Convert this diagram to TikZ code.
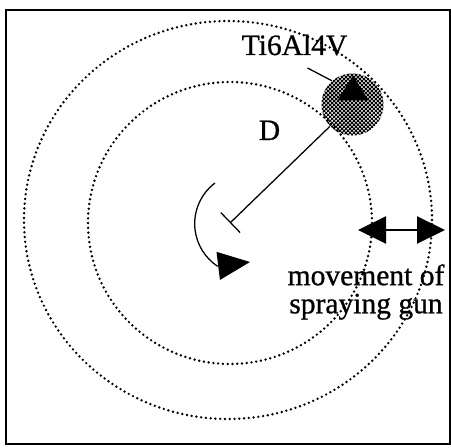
\documentclass[tikz,border=0pt]{standalone}
\usepackage{fontspec}
\setmainfont[FakeBold=0.8]{Liberation Serif}
\usetikzlibrary{arrows.meta, patterns.meta}

\begin{document}
\begin{tikzpicture}[
    x=0.025cm, y=0.025cm,
    font=\fontsize{21}{20}\selectfont,
    orbit/.style={line width=1.9pt, dash pattern=on 0pt off 3.4pt, line cap=round},
    arrow/.style={line width=0.9pt, -{Triangle[length=0.8cm, width=0.7cm]}},
    twoway/.style={line width=0.9pt, {Triangle[length=0.7cm, width=0.68cm]}-{Triangle[length=0.7cm, width=0.68cm]}},
    tag/.style={inner sep=0pt, anchor=base},
    sample/.style={circle, minimum size=1.55cm, inner sep=0pt, pattern={Hatch[angle=45, distance=2pt, line width=0.7pt]}}
]
\useasboundingbox (0,0) rectangle (451,447);

% frame
\draw[line width=1.6pt] (6,3) rectangle (450,437);

% turntable centre and the two tracks
\coordinate (hub) at (230,224);
\draw[orbit] (hub) ellipse [x radius=142, y radius=141];
\draw[orbit] ([shift={(-2,3)}]hub) ellipse [x radius=204, y radius=199];

% sample on the turntable
\node[sample] (ball) at (352.5,342.5) {};
\fill (ball.center) ++(-15,4) -- ++(31,0) -- ++(-15.5,25) -- cycle;

\node[tag] (tilabel) at (294.5,392) {Ti6Al4V};
\draw[line width=0.9pt] (tilabel.base) ++(13,-13) -- (ball.131);

% radius D
\node[tag] (dlabel) at (269.5,307) {D};
\draw[line width=0.9pt, -{Bar[width=0.69cm]}] (ball) -- (hub);

% rotation
\draw[arrow] (215,264) arc[start angle=127, end angle=236, radius=51] -- (250,185);

% gun stroke
\coordinate (gunin) at (358,217);
\coordinate (gunout) at (445,217);
\draw[twoway] (gunin) -- (gunout);
\node[align=center, inner sep=0pt] (gunlabel) at (366,155) {movement of\\spraying gun};

\end{tikzpicture}
\end{document}
